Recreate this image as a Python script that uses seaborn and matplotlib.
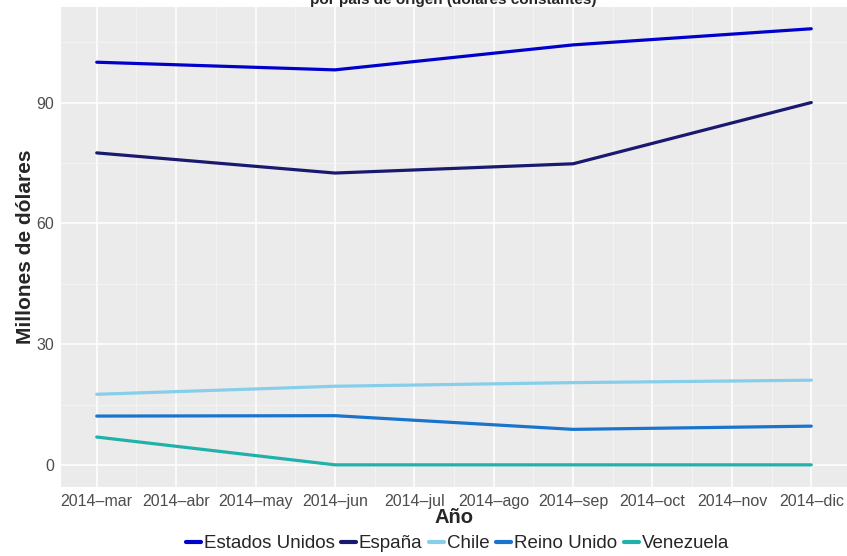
import numpy as np
import pandas as pd
import matplotlib
matplotlib.use("Agg")
import matplotlib.pyplot as plt
import seaborn as sns

# monthly axis, data every quarter
meses = ["2014–mar", "2014–abr", "2014–may", "2014–jun", "2014–jul",
         "2014–ago", "2014–sep", "2014–oct", "2014–nov", "2014–dic"]
fechas = [0, 3, 6, 9]  # mar, jun, sep, dic

paises = ["Estados Unidos", "España", "Chile", "Reino Unido", "Venezuela"]
estados_unidos = [100.0, 98.1, 104.3, 108.3]
espana = [77.5, 72.5, 74.8, 90.0]
chile = [17.6, 19.6, 20.5, 21.1]
reino_unido = [12.2, 12.3, 8.9, 9.7]
venezuela = [7.0, 0.1, 0.1, 0.1]
colores = ["#0000CD", "#191970", "#87CEEB", "#1874CD", "#20B2AA"]

valores = [estados_unidos, espana, chile, reino_unido, venezuela]
rows = []
for p, v in zip(paises, valores):
    for f, val in zip(fechas, v):
        rows.append({"mes": f, "valor": val, "pais": p})
df = pd.DataFrame(rows)

sns.set_style("darkgrid", {"axes.facecolor": "#EBEBEB", "grid.color": "white"})
plt.rcParams["font.family"] = ["Liberation Sans", "DejaVu Sans"]

fig = plt.figure(figsize=(8.47, 5.56), dpi=100)
ax = fig.add_axes([61/847, 1-487/556, 786/847, 480/556])

sns.lineplot(data=df, x="mes", y="valor", hue="pais", hue_order=paises,
             palette=colores, linewidth=2.3, ax=ax)

ax.set_xlim(-0.45, 9.45)
ax.set_ylim(-5.4, 113.7)
ax.set_xticks(range(len(meses)))
ax.set_xticklabels(meses)
ax.set_xticks(np.arange(0.5, 9, 1), minor=True)
ax.set_yticks([0, 30, 60, 90])
ax.set_yticks([15, 45, 75, 105], minor=True)
ax.grid(which="major", color="white", linewidth=1.1)
ax.grid(which="minor", color="#F5F5F5", linewidth=0.6)
for s in ax.spines.values():
    s.set_visible(False)
ax.tick_params(axis="both", which="major", length=3, color="#333333",
               labelsize=11.5, labelcolor="#4D4D4D", pad=2)
ax.tick_params(axis="both", which="minor", length=0)

ax.set_xlabel("Año", fontsize=14.5, fontweight="bold", labelpad=-1)
ax.set_ylabel("Millones de dólares", fontsize=15, fontweight="bold", labelpad=1)

fig.text(0.535, 1-4/556, "por país de origen (dólares constantes)",
         ha="center", va="baseline", fontsize=11, fontweight="bold")

handles, labels = ax.get_legend_handles_labels()
ax.legend_.remove()
for h in handles:
    h.set_linewidth(3)
fig.legend(handles, labels, loc="center", bbox_to_anchor=(0.54, 0.022),
           ncol=5, frameon=False, fontsize=13.5, handlelength=0.8,
           handletextpad=0.15, columnspacing=0.35)

fig.savefig("out.png", dpi=100)
